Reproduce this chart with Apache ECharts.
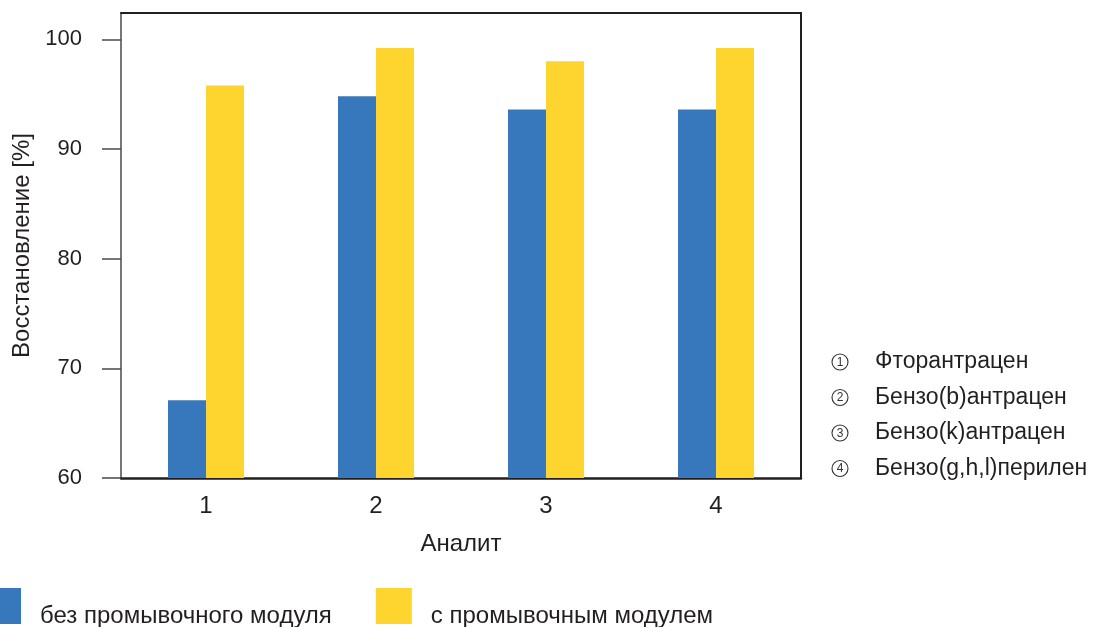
<!DOCTYPE html>
<html><head><meta charset="utf-8">
<script src="https://cdn.jsdelivr.net/npm/echarts@6/dist/echarts.min.js"></script>
<style>html,body{margin:0;padding:0;background:#fff}#c{width:1099px;height:627px}</style>
</head><body><div id="c"></div>
<script>
const categories = ['1', '2', '3', '4'];
const seriesNames = ['без промывочного модуля', 'с промывочным модулем'];
const withoutModule = [67.1, 94.8, 93.6, 93.6];
const withModule = [95.8, 99.2, 98.0, 99.2];
const yTicks = [60, 70, 80, 90, 100];
const analyteNames = ['Фторантрацен', 'Бензо(b)антрацен', 'Бензо(k)антрацен', 'Бензо(g,h,l)перилен'];
const yName = 'Восстановление [%]';
const xName = 'Аналит';

const FONT = '"Liberation Sans", Arial, Helvetica, sans-serif';
const TXT = '#231f20';
const BLUE = '#3778bd';
const YELLOW = '#fdd52e';

const chart = echarts.init(document.getElementById('c'), null, { renderer: 'canvas' });

const keyGraphics = analyteNames.map((name, i) => ({
  type: 'group',
  x: 840,
  y: 362 + i * 35.5,
  children: [
    { type: 'circle', shape: { cx: 0, cy: 0, r: 8 }, style: { fill: 'none', stroke: '#333', lineWidth: 1.1 } },
    { type: 'text', x: 0, y: 0.5, style: { text: String(i + 1), font: '12px ' + FONT, fill: '#333', align: 'center', verticalAlign: 'middle' } },
    { type: 'text', x: 35, y: 0, style: { text: name, font: '23px ' + FONT, fill: TXT, align: 'left', verticalAlign: 'middle' } }
  ]
}));

const option = {
  animation: false,
  backgroundColor: '#fff',
  textStyle: { fontFamily: FONT, color: TXT },
  grid: { left: 121, right: 298, top: 13, bottom: 149 },
  legend: {
    data: seriesNames,
    left: -15,
    top: 588,
    orient: 'horizontal',
    icon: 'rect',
    itemWidth: 36,
    itemHeight: 36,
    itemGap: 44,
    padding: 0,
    selectedMode: false,
    formatter: name => '{t|' + name + '}',
    textStyle: {
      fontFamily: FONT, fontSize: 24, color: TXT,
      rich: { t: { fontFamily: FONT, fontSize: 24, color: TXT, padding: [20, 0, 0, 14] } }
    }
  },
  xAxis: [{
    type: 'category',
    data: categories,
    position: 'bottom',
    axisLine: { show: true, onZero: false, lineStyle: { color: TXT, width: 2.5 } },
    axisTick: { show: false },
    axisLabel: { fontFamily: FONT, fontSize: 24, color: TXT, margin: 16 },
    splitLine: { show: false },
    name: xName,
    nameLocation: 'middle',
    nameGap: 54,
    nameTextStyle: { fontFamily: FONT, fontSize: 24, color: TXT }
  }, {
    type: 'category',
    data: categories,
    position: 'top',
    axisLine: { show: true, onZero: false, lineStyle: { color: TXT, width: 2 } },
    axisTick: { show: false },
    axisLabel: { show: false },
    splitLine: { show: false }
  }],
  yAxis: [{
    type: 'value',
    min: 60,
    max: 102.4,
    position: 'left',
    axisLine: { show: true, lineStyle: { color: '#4a4a4a', width: 1.5 } },
    axisTick: { show: true, inside: false, length: 19, customValues: yTicks, lineStyle: { color: '#4a4a4a', width: 1.5 } },
    axisLabel: { customValues: yTicks, fontFamily: FONT, fontSize: 22, color: TXT, margin: 39 },
    splitLine: { show: false },
    name: yName,
    nameLocation: 'middle',
    nameGap: 86,
    nameTextStyle: { fontFamily: FONT, fontSize: 24, color: TXT }
  }, {
    type: 'value',
    min: 0,
    max: 1,
    position: 'right',
    axisLine: { show: true, lineStyle: { color: TXT, width: 2 } },
    axisTick: { show: false },
    axisLabel: { show: false },
    splitLine: { show: false }
  }],
  series: [{
    name: seriesNames[0],
    type: 'bar',
    xAxisIndex: 0,
    yAxisIndex: 0,
    data: withoutModule,
    barWidth: 38,
    barGap: '0%',
    itemStyle: { color: BLUE }
  }, {
    name: seriesNames[1],
    type: 'bar',
    xAxisIndex: 0,
    yAxisIndex: 0,
    data: withModule,
    barWidth: 38,
    barGap: '0%',
    itemStyle: { color: YELLOW }
  }],
  graphic: keyGraphics
};

chart.setOption(option);
</script>
</body></html>
